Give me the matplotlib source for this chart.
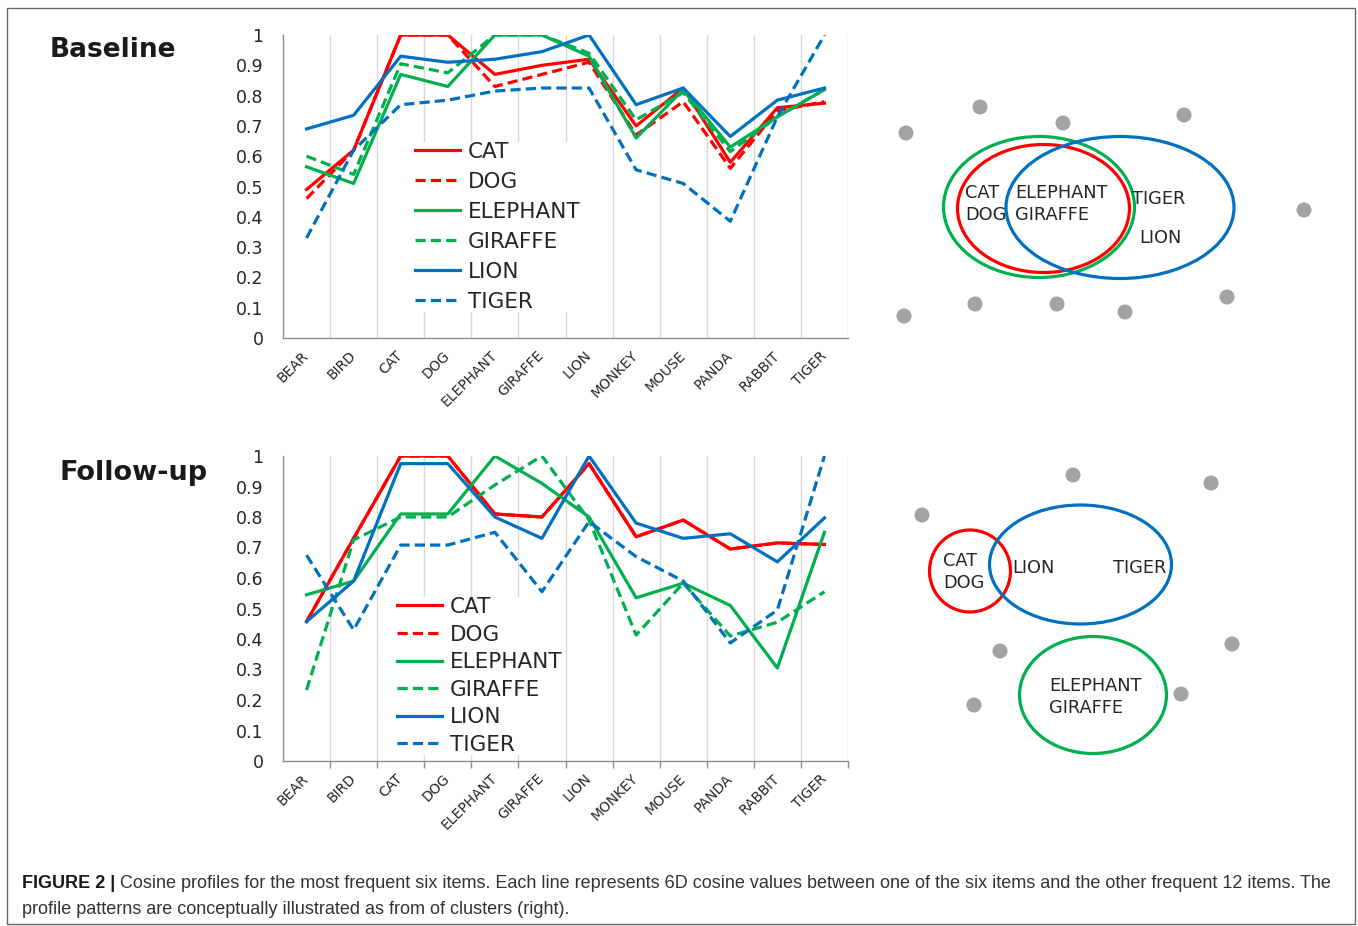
import matplotlib
matplotlib.use("Agg")
import matplotlib.pyplot as plt
from matplotlib.patches import Ellipse, Circle, Rectangle
import numpy as np


CATEGORIES = ["BEAR", "BIRD", "CAT", "DOG", "ELEPHANT", "GIRAFFE",
              "LION", "MONKEY", "MOUSE", "PANDA", "RABBIT", "TIGER"]
ITEMS = ["CAT", "DOG", "ELEPHANT", "GIRAFFE", "LION", "TIGER"]

# cosine profiles, baseline
cat_base = [0.49, 0.62, 1.00, 1.00, 0.87, 0.90, 0.92, 0.70, 0.825, 0.58, 0.76, 0.775]
dog_base = [0.46, 0.62, 1.00, 1.00, 0.83, 0.87, 0.91, 0.67, 0.78, 0.56, 0.75, 0.78]
elephant_base = [0.565, 0.51, 0.87, 0.83, 1.00, 1.00, 0.93, 0.66, 0.82, 0.63, 0.73, 0.82]
giraffe_base = [0.60, 0.54, 0.905, 0.875, 1.00, 1.00, 0.94, 0.72, 0.81, 0.615, 0.73, 0.82]
lion_base = [0.69, 0.735, 0.93, 0.91, 0.92, 0.945, 1.00, 0.77, 0.825, 0.665, 0.785, 0.825]
tiger_base = [0.33, 0.62, 0.77, 0.785, 0.815, 0.825, 0.825, 0.555, 0.51, 0.385, 0.73, 1.00]

# cosine profiles, follow-up
cat_follow = [0.457, 0.73, 1.00, 1.00, 0.81, 0.80, 0.975, 0.735, 0.79, 0.695, 0.715, 0.71]
dog_follow = [0.457, 0.73, 1.00, 1.00, 0.81, 0.80, 0.975, 0.735, 0.79, 0.695, 0.715, 0.71]
elephant_follow = [0.545, 0.59, 0.81, 0.81, 1.00, 0.91, 0.80, 0.535, 0.583, 0.51, 0.305, 0.75]
giraffe_follow = [0.233, 0.725, 0.80, 0.80, 0.905, 1.00, 0.79, 0.413, 0.583, 0.41, 0.455, 0.555]
lion_follow = [0.457, 0.59, 0.975, 0.975, 0.80, 0.73, 1.00, 0.78, 0.73, 0.745, 0.653, 0.797]
tiger_follow = [0.675, 0.43, 0.708, 0.708, 0.75, 0.555, 0.785, 0.67, 0.59, 0.387, 0.495, 1.00]

Y_TICKS = [0, 0.1, 0.2, 0.3, 0.4, 0.5, 0.6, 0.7, 0.8, 0.9, 1]
Y_TICK_LABELS = ["0", "0.1", "0.2", "0.3", "0.4", "0.5", "0.6", "0.7", "0.8", "0.9", "1"]

RED = "#ff0000"
GREEN = "#00b050"
BLUE = "#0070c0"
DOT = "#a3a3a3"
DASH = (0, (3.2, 1.6))

ITEM_COLORS = [RED, RED, GREEN, GREEN, BLUE, BLUE]
ITEM_STYLES = ["-", DASH, "-", DASH, "-", DASH]

# cluster sketches, in figure pixels (x, y from top)
base_dots = [(980, 107), (906, 133), (1063, 123), (1184, 115), (1304, 210),
             (904, 316), (975, 304), (1057, 304), (1125, 312), (1227, 297)]
base_clusters = [((1039, 207), 191, 141, GREEN),
                 ((1043.5, 208.5), 172, 128, RED),
                 ((1120, 207.5), 228, 142, BLUE)]
base_words = [("CAT\nDOG", 965, 204), ("ELEPHANT\nGIRAFFE", 1015, 204),
              ("TIGER", 1132, 199), ("LION", 1139, 238)]

follow_dots = [(1073, 475), (1211, 483), (922, 515), (1000, 651),
               (1232, 644), (1181, 694), (974, 705)]
follow_clusters = [((970, 571), 81, 82, RED),
                   ((1080.5, 564.5), 182, 119, BLUE),
                   ((1093, 695), 147, 117, GREEN)]
follow_words = [("CAT\nDOG", 943, 572), ("LION", 1012, 568),
                ("TIGER", 1113, 568), ("ELEPHANT\nGIRAFFE", 1049, 697)]


def draw_profiles(ax, series, legend_at, spacing, show_ticks):
    x = np.arange(len(CATEGORIES))
    for name, values, color, style in zip(ITEMS, series, ITEM_COLORS, ITEM_STYLES):
        ax.plot(x, values, color=color, linestyle=style, linewidth=2.3,
                label=name, dash_capstyle="butt")

    ax.set_yticks(Y_TICKS)
    ax.set_yticklabels(Y_TICK_LABELS, fontsize=12.5, color="#262626")
    ax.tick_params(axis="y", length=0, pad=14)

    ax.set_xticks(x)
    ax.set_xticklabels(CATEGORIES, rotation=45, ha="right", va="center",
                       rotation_mode="anchor", fontsize=10, color="#262626")
    ax.tick_params(axis="x", which="major", length=0, pad=11)
    # category boundaries carry the gridlines
    ax.set_xticks(x + 0.5, minor=True)
    ax.tick_params(axis="x", which="minor", length=5 if show_ticks else 0,
                   color="#8c8c8c", width=1)
    ax.grid(axis="x", which="minor", color="#d9d9d9", linewidth=1)
    ax.set_axisbelow(True)

    ax.set_xlim(-0.5, len(CATEGORIES) - 0.5)
    ax.set_ylim(0, 1)

    for side in ["top", "right"]:
        ax.spines[side].set_visible(False)
    for side in ["left", "bottom"]:
        ax.spines[side].set_color("#8c8c8c")
        ax.spines[side].set_linewidth(1)

    leg = ax.legend(loc="upper left", bbox_to_anchor=legend_at,
                    bbox_transform=fig.transFigure, fontsize=15.5,
                    frameon=True, fancybox=False, borderpad=0,
                    borderaxespad=0, handlelength=2.1, handletextpad=0.35,
                    labelspacing=spacing)
    leg.get_frame().set_edgecolor("none")
    leg.get_frame().set_facecolor("white")
    leg.get_frame().set_alpha(1)
    for t in leg.get_texts():
        t.set_color("#262626")


def draw_clusters(ax, dots, clusters, words):
    for (cx, cy) in dots:
        ax.add_patch(Circle((cx, cy), 7.5, facecolor=DOT, edgecolor="none"))
    for (center, w, h, color) in clusters:
        ax.add_patch(Ellipse(center, w, h, fill=False, edgecolor=color, linewidth=2.3))
    for (label, tx, ty) in words:
        ax.text(tx, ty, label, fontsize=12.8, color="#262626",
                ha="left", va="center", linespacing=1.25)


fig = plt.figure(figsize=(13.58, 9.26), dpi=100)
W, H = 1358, 926

ax_top = fig.add_axes([283 / W, 1 - 338 / H, 565 / W, 303 / H])
draw_profiles(ax_top, [cat_base, dog_base, elephant_base, giraffe_base, lion_base, tiger_base],
              (415 / W, 1 - 142 / H), 0.46, False)

ax_bottom = fig.add_axes([283 / W, 1 - 761 / H, 565 / W, 305 / H])
draw_profiles(ax_bottom, [cat_follow, dog_follow, elephant_follow, giraffe_follow, lion_follow, tiger_follow],
              (397 / W, 1 - 597 / H), 0.35, True)

# overlay in pixel units for the frame, panel titles, sketches and caption
ov = fig.add_axes([0, 0, 1, 1])
ov.set_xlim(0, W)
ov.set_ylim(H, 0)
ov.axis("off")

ov.add_patch(Rectangle((7, 8), 1348, 916, fill=False, edgecolor="#666666", linewidth=1))

ov.text(50, 50, "Baseline", fontsize=19, fontweight="bold", ha="left", va="center", color="#1a1a1a")
ov.text(60, 473, "Follow-up", fontsize=19.5, fontweight="bold", ha="left", va="center", color="#1a1a1a")

draw_clusters(ov, base_dots, base_clusters, base_words)
draw_clusters(ov, follow_dots, follow_clusters, follow_words)

cap_font = ["Liberation Sans Narrow", "Liberation Sans", "DejaVu Sans"]
head = ov.text(22, 883, "FIGURE 2 |", fontsize=13, fontweight="bold", family=cap_font,
               ha="left", va="center", color="#1a1a1a")
ov.annotate(" Cosine profiles for the most frequent six items. Each line represents 6D cosine "
            "values between one of the six items and the other frequent 12 items. The",
            xy=(1, 0.5), xycoords=head, fontsize=13, family=cap_font,
            ha="left", va="center", color="#333333")
ov.text(22, 909, "profile patterns are conceptually illustrated as from of clusters (right).",
        fontsize=13, family=cap_font, ha="left", va="center", color="#333333")

fig.savefig("out.png", dpi=100)
